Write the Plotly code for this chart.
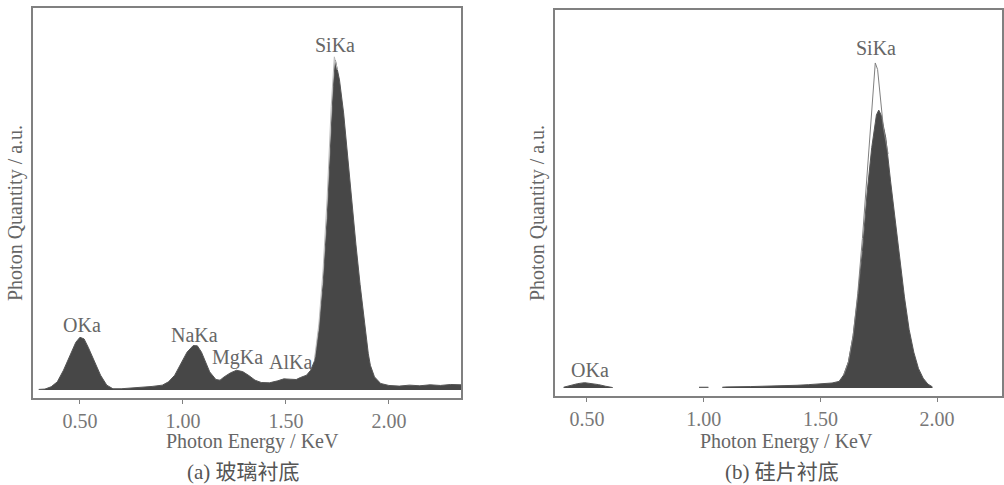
import plotly.graph_objects as go

# ---------------- data ----------------
# (a) glass substrate spectrum
energy_a = [0.30, 0.33, 0.36, 0.39, 0.42, 0.45, 0.48, 0.50, 0.52, 0.54, 0.57, 0.60, 0.63, 0.66,
            0.70, 0.75, 0.80, 0.85, 0.90, 0.93, 0.96, 0.99, 1.02, 1.05, 1.07, 1.09, 1.11, 1.13,
            1.16, 1.18, 1.20, 1.23, 1.26, 1.29, 1.32, 1.35, 1.38, 1.42, 1.46, 1.49, 1.52, 1.55,
            1.57, 1.60, 1.62, 1.64, 1.66, 1.68, 1.70, 1.72, 1.73, 1.74, 1.75, 1.76, 1.78, 1.80,
            1.82, 1.84, 1.86, 1.88, 1.90, 1.91, 1.93, 1.96, 2.00, 2.05, 2.10, 2.15, 2.20, 2.25,
            2.30, 2.35]
counts_a = [0.2, 0.3, 1.0, 2.5, 6.0, 10.5, 14.5, 16.0, 15.5, 13.0, 8.5, 4.5, 1.5, 0.4,
            0.4, 0.6, 0.9, 1.1, 1.5, 2.5, 4.5, 8.0, 11.5, 13.5, 13.4, 11.5, 8.5, 5.5,
            3.2, 3.0, 4.0, 5.2, 6.0, 5.6, 4.4, 3.0, 2.3, 2.2, 2.8, 3.4, 3.3, 3.2,
            3.8, 4.5, 6.0, 9.0, 18.0, 32.0, 52.0, 82.0, 92.0, 100.0, 97.0, 94.0, 84.0, 70.0,
            57.0, 44.0, 32.0, 21.0, 11.0, 7.5, 4.0, 2.0, 1.4, 1.2, 1.5, 1.3, 1.6, 1.4,
            1.7, 1.6]
# thin outline over the SiKa peak in (a)
outline_a_energy = [1.64, 1.66, 1.68, 1.70, 1.72, 1.735, 1.75]
outline_a_counts = [10.0, 20.0, 36.0, 58.0, 86.0, 101.0, 97.0]

# (b) silicon wafer substrate spectrum, in three separate stretches
energy_b_oxygen = [0.40, 0.43, 0.46, 0.49, 0.52, 0.55, 0.58, 0.61]
counts_b_oxygen = [0.2, 0.8, 1.3, 1.6, 1.4, 1.0, 0.5, 0.1]
energy_b_dash = [0.98, 1.00, 1.02]
counts_b_dash = [0.2, 0.3, 0.2]
energy_b_main = [1.08, 1.10, 1.20, 1.30, 1.40, 1.45, 1.50, 1.55, 1.58, 1.60, 1.62, 1.64, 1.66,
                 1.68, 1.70, 1.72, 1.74, 1.75, 1.76, 1.78, 1.80, 1.82, 1.84, 1.86, 1.88, 1.90,
                 1.92, 1.94, 1.96, 1.98]
counts_b_main = [0.2, 0.3, 0.4, 0.5, 0.8, 1.0, 1.2, 1.5, 2.0, 4.0, 8.0, 16.0, 28.0,
                 42.0, 60.0, 74.0, 84.0, 85.5, 84.0, 77.0, 64.0, 52.0, 40.0, 28.0, 18.0, 11.0,
                 6.0, 3.0, 1.2, 0.3]
# thin outline over the SiKa peak in (b)
outline_b_energy = [1.60, 1.62, 1.64, 1.66, 1.68, 1.70, 1.72, 1.735, 1.745, 1.76, 1.77, 1.79]
outline_b_counts = [4.0, 8.0, 16.0, 29.0, 46.0, 66.0, 88.0, 100.0, 98.0, 88.0, 80.0, 72.0]

peak_labels_a = ["OKa", "NaKa", "MgKa", "AlKa", "SiKa"]
peak_x_a = [0.51, 1.058, 1.267, 1.524, 1.74]
peak_y_a = [19.7, 16.7, 10.0, 8.5, 104.5]

peak_labels_b = ["OKa", "SiKa"]
peak_x_b = [0.513, 1.739]
peak_y_b = [5.5, 104.6]

tick_vals = [0.5, 1.0, 1.5, 2.0]
tick_text = ["0.50", "1.00", "1.50", "2.00"]

x_title = "Photon Energy / KeV"
y_title = "Photon Quantity / a.u."
captions = ["(a) 玻璃衬底", "(b) 硅片衬底"]

# ---------------- styling ----------------
W, H = 1004, 485
SERIF = "Liberation Serif, Times New Roman, Noto Sans CJK SC, serif"
TXT = "#666666"
FILL = "#474747"
FRAME = "#808080"

fig = go.Figure()


def area(x, y, xa, ya):
    fig.add_trace(go.Scatter(x=x, y=y, mode="lines", fill="tozeroy",
                             fillcolor=FILL, line=dict(color="#555555", width=1),
                             xaxis=xa, yaxis=ya, showlegend=False, hoverinfo="skip"))


def outline(x, y, color, xa, ya):
    fig.add_trace(go.Scatter(x=x, y=y, mode="lines", line=dict(color=color, width=1),
                             xaxis=xa, yaxis=ya, showlegend=False, hoverinfo="skip"))


area(energy_a, counts_a, "x", "y")
outline(outline_a_energy, outline_a_counts, "#bbbbbb", "x", "y")
area(energy_b_oxygen, counts_b_oxygen, "x2", "y2")
area(energy_b_dash, counts_b_dash, "x2", "y2")
area(energy_b_main, counts_b_main, "x2", "y2")
outline(outline_b_energy, outline_b_counts, "#808080", "x2", "y2")


def px_x(p):
    return p / W


def px_y(p):
    return 1 - p / H


axis_common = dict(showgrid=False, zeroline=False, showline=True, mirror=True,
                   linecolor=FRAME, linewidth=1.5)

fig.update_layout(
    width=W, height=H,
    margin=dict(l=0, r=0, t=0, b=0),
    paper_bgcolor="white", plot_bgcolor="white",
    font=dict(family=SERIF, color=TXT, size=20),
    xaxis=dict(domain=[px_x(33), px_x(461)], range=[0.272, 2.35], anchor="y",
               tickvals=tick_vals, ticktext=tick_text, ticks="outside", ticklen=4,
               tickcolor=FRAME, tickfont=dict(size=20, color="#777777"), **axis_common),
    yaxis=dict(domain=[px_y(398), px_y(8)], range=[-2.4, 115.8], anchor="x",
               showticklabels=False, ticks="", **axis_common),
    xaxis2=dict(domain=[px_x(555), px_x(1002)], range=[0.363, 2.278], anchor="y2",
                tickvals=tick_vals, ticktext=tick_text, ticks="outside", ticklen=4,
                tickcolor=FRAME, tickfont=dict(size=20, color="#777777"), **axis_common),
    yaxis2=dict(domain=[px_y(396), px_y(10)], range=[-2.5, 116.3], anchor="x2",
                showticklabels=False, ticks="", **axis_common),
)

ann = []
for t, x, y in zip(peak_labels_a, peak_x_a, peak_y_a):
    ann.append(dict(text=t, x=x, y=y, xref="x", yref="y", showarrow=False,
                    font=dict(size=20, color=TXT), yanchor="middle"))
for t, x, y in zip(peak_labels_b, peak_x_b, peak_y_b):
    ann.append(dict(text=t, x=x, y=y, xref="x2", yref="y2", showarrow=False,
                    font=dict(size=20, color=TXT), yanchor="middle"))

# axis titles and captions
for cx in (252, 786):
    ann.append(dict(text=x_title, x=px_x(cx), y=px_y(441), xref="paper", yref="paper",
                    showarrow=False, font=dict(size=20, color=TXT),
                    xanchor="center", yanchor="middle"))
for cx in (15, 537):
    ann.append(dict(text=y_title, x=px_x(cx), y=px_y(213), xref="paper", yref="paper",
                    showarrow=False, textangle=-90, font=dict(size=20, color=TXT),
                    xanchor="center", yanchor="middle"))
for cap, cx in zip(captions, (243, 782)):
    ann.append(dict(text=cap, x=px_x(cx), y=px_y(472), xref="paper", yref="paper",
                    showarrow=False, font=dict(size=21, color="#555555"),
                    xanchor="center", yanchor="middle"))

fig.update_layout(annotations=ann)

fig.write_html("out.html")
